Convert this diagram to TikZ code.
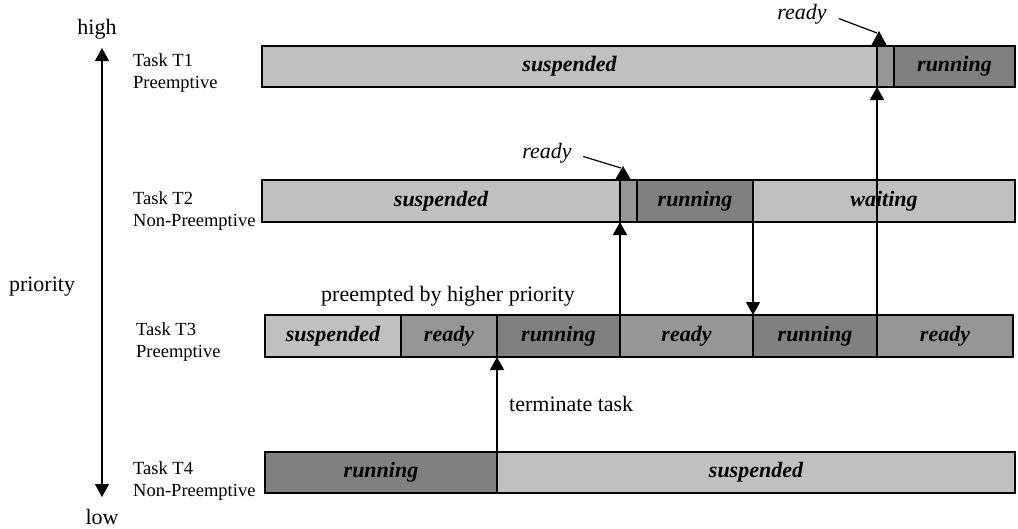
\documentclass[tikz,border=0pt]{standalone}
\usepackage{fontspec}
\setmainfont{Liberation Serif}
\usetikzlibrary{arrows.meta}
\definecolor{cSusp}{RGB}{192,192,192}
\definecolor{cRdy}{RGB}{150,150,150}
\definecolor{cRun}{RGB}{128,128,128}

\begin{document}
\begin{tikzpicture}[x=1pt,y=1pt,yscale=-1,xscale=1,
  seg/.style={draw=black,line width=1.2pt,anchor=north west,inner sep=0pt,outer sep=0pt,
    font=\fontsize{22}{24}\selectfont\bfseries\itshape},
  tasklbl/.style={anchor=west,align=left,inner sep=0pt,font=\fontsize{18.5}{21.5}\selectfont},
  txt/.style={inner sep=0pt,font=\fontsize{22}{24}\selectfont},
  upto/.style={line width=1.2pt,-{Triangle[width=14pt,length=13pt]}}]
\useasboundingbox (0,0) rectangle (1018,528);

%Shape: Bars of Task T1
\node [seg,fill=cSusp,minimum width=615pt,minimum height=41pt] (t1sus) at (262,46) {suspended};
\node [seg,fill=cRdy,minimum width=17pt,minimum height=41pt] (t1rdy) at (877,46) {};
\node [seg,fill=cRun,minimum width=121pt,minimum height=41pt] (t1run) at (894,46) {running};
%Shape: Bars of Task T2
\node [seg,fill=cSusp,minimum width=358pt,minimum height=42pt] (t2sus) at (262,180) {suspended};
\node [seg,fill=cRdy,minimum width=17pt,minimum height=42pt] (t2rdy) at (620,180) {};
\node [seg,fill=cRun,minimum width=116pt,minimum height=42pt] (t2run) at (637,180) {running};
\node [seg,fill=cSusp,minimum width=262pt,minimum height=42pt] (t2wait) at (753,180) {waiting};
%Shape: Bars of Task T3
\node [seg,fill=cSusp,minimum width=136pt,minimum height=42pt] (t3sus) at (265,315) {suspended};
\node [seg,fill=cRdy,minimum width=96pt,minimum height=42pt] (t3rdyA) at (401,315) {ready};
\node [seg,fill=cRun,minimum width=123pt,minimum height=42pt] (t3runA) at (497,315) {running};
\node [seg,fill=cRdy,minimum width=133pt,minimum height=42pt] (t3rdyB) at (620,315) {ready};
\node [seg,fill=cRun,minimum width=124pt,minimum height=42pt] (t3runB) at (753,315) {running};
\node [seg,fill=cRdy,minimum width=136pt,minimum height=42pt] (t3rdyC) at (877,315) {ready};
%Shape: Bars of Task T4
\node [seg,fill=cRun,minimum width=232pt,minimum height=41pt] (t4run) at (265,452) {running};
\node [seg,fill=cSusp,minimum width=518pt,minimum height=41pt] (t4sus) at (497,452) {suspended};

% Text Node
\node [tasklbl] (lblT1) at (133,73) {Task T1\\Preemptive};
\node [tasklbl] (lblT2) at (133,211) {Task T2\\Non-Preemptive};
\node [tasklbl] (lblT3) at (136,342) {Task T3\\Preemptive};
\node [tasklbl] (lblT4) at (133,481) {Task T4\\Non-Preemptive};

% Text Node
\node [txt] (high) at (97,29) {high};
\node [txt] (low) at (102,517) {low};
\node [txt] (prio) at (42,287) {priority};
\node [txt] (preempt) at (448,296) {preempted by higher priority};
\node [txt,anchor=west] (term) at (509,404) {terminate task};
\node [txt,font=\fontsize{22}{24}\selectfont\itshape] (rdyA) at (802,14) {ready};
\node [txt,font=\fontsize{22}{24}\selectfont\itshape] (rdyB) at (547,153) {ready};

%Straight Lines: priority axis
\coordinate (ptop) at (102,48);
\coordinate (pbot) at (102,497);
\draw [upto,{Triangle[width=14pt,length=13pt]}-{Triangle[width=14pt,length=13pt]}] (pbot) -- (ptop);

%Straight Lines: switches between tasks
\draw [upto] (t4run.north east) -- (t3runA.south west);
\draw [upto] (t3rdyB.north west) -- (t2rdy.south west);
\draw [upto] (t2run.south east) -- (t3runB.north west);
\draw [upto] (t3runB.north east) -- (t1rdy.south west);

%Shape: ready markers
\coordinate (tipA) at (879,31);
\coordinate (tipB) at (623,166);
\draw [line width=1.2pt,shorten <=13pt] (rdyA.east) -- ([xshift=-2pt,yshift=2pt]tipA);
\fill (tipA) -- ++(-7.5,14) -- ++(15,0) -- cycle;
\draw [line width=1.2pt,shorten <=12pt] (rdyB.east) -- ([xshift=-2pt,yshift=2pt]tipB);
\fill (tipB) -- ++(-7.5,13) -- ++(15,0) -- cycle;

\end{tikzpicture}
\end{document}
